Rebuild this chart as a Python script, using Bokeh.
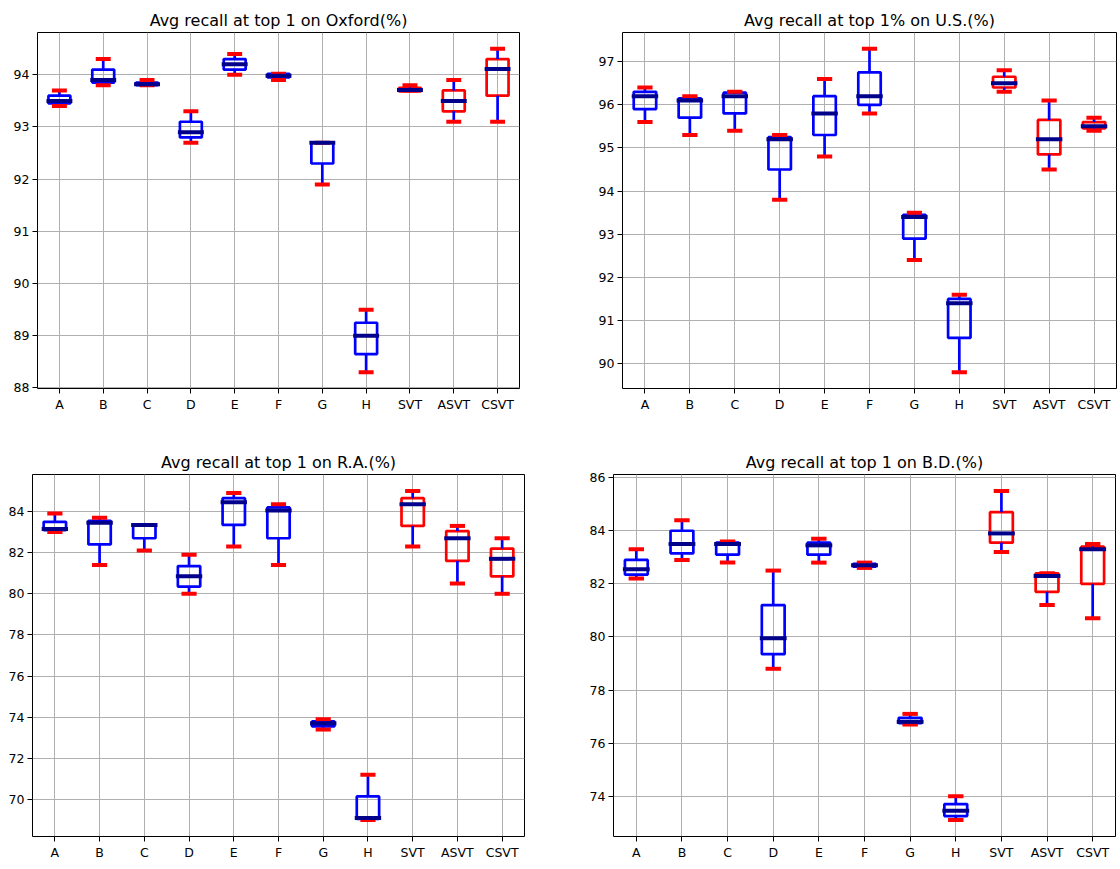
from bokeh.plotting import figure
from bokeh.layouts import column, row
from bokeh.models import FixedTicker, Range1d, ColumnDataSource
from bokeh.embed import file_html
from bokeh.resources import INLINE

categories = ["A", "B", "C", "D", "E", "F", "G", "H", "SVT", "ASVT", "CSVT"]
proposed = ["SVT", "ASVT", "CSVT"]

oxford_lo = [93.4, 93.8, 93.8, 92.7, 94.0, 93.9, 91.9, 88.3, 93.7, 93.1, 93.1]
oxford_q1 = [93.45, 93.85, 93.8, 92.8, 94.1, 93.95, 92.3, 88.65, 93.68, 93.3, 93.6]
oxford_med = [93.5, 93.9, 93.82, 92.9, 94.2, 93.98, 92.7, 89.0, 93.71, 93.5, 94.11]
oxford_q3 = [93.6, 94.1, 93.85, 93.1, 94.3, 94.02, 92.7, 89.25, 93.75, 93.7, 94.3]
oxford_hi = [93.7, 94.3, 93.9, 93.3, 94.4, 94.02, 92.7, 89.5, 93.8, 93.9, 94.5]
oxford_ticks = [88, 89, 90, 91, 92, 93, 94]

us_lo = [95.6, 95.3, 95.4, 93.8, 94.8, 95.8, 92.4, 89.8, 96.3, 94.5, 95.4]
us_q1 = [95.9, 95.7, 95.8, 94.5, 95.3, 96.0, 92.9, 90.6, 96.4, 94.85, 95.45]
us_med = [96.2, 96.1, 96.2, 95.2, 95.8, 96.2, 93.4, 91.4, 96.5, 95.2, 95.5]
us_q3 = [96.3, 96.15, 96.28, 95.25, 96.2, 96.75, 93.45, 91.5, 96.65, 95.65, 95.6]
us_hi = [96.4, 96.2, 96.3, 95.3, 96.6, 97.3, 93.5, 91.6, 96.8, 96.1, 95.7]
us_ticks = [90, 91, 92, 93, 94, 95, 96, 97]

ra_lo = [83.0, 81.4, 82.1, 80.0, 82.3, 81.4, 73.4, 69.0, 82.3, 80.5, 80.0]
ra_q1 = [83.1, 82.4, 82.7, 80.35, 83.35, 82.7, 73.55, 69.05, 83.3, 81.6, 80.85]
ra_med = [83.15, 83.45, 83.35, 80.85, 84.45, 84.05, 73.7, 69.1, 84.35, 82.7, 81.7]
ra_q3 = [83.5, 83.55, 83.35, 81.35, 84.65, 84.2, 73.8, 70.15, 84.65, 83.05, 82.2]
ra_hi = [83.9, 83.7, 83.35, 81.9, 84.9, 84.35, 73.9, 71.2, 85.0, 83.3, 82.7]
ra_ticks = [70, 72, 74, 76, 78, 80, 82, 84]

bd_lo = [82.2, 82.9, 82.8, 78.8, 82.8, 82.6, 76.7, 73.1, 83.2, 81.2, 80.7]
bd_q1 = [82.35, 83.15, 83.1, 79.35, 83.1, 82.65, 76.75, 73.25, 83.55, 81.7, 82.0]
bd_med = [82.55, 83.5, 83.5, 79.95, 83.45, 82.7, 76.8, 73.45, 83.9, 82.3, 83.3]
bd_q3 = [82.9, 84.0, 83.55, 81.2, 83.55, 82.75, 76.95, 73.7, 84.7, 82.4, 83.4]
bd_hi = [83.3, 84.4, 83.6, 82.5, 83.7, 82.8, 77.1, 74.0, 85.5, 82.4, 83.5]
bd_ticks = [74, 76, 78, 80, 82, 84, 86]

BLUE = "#0000FF"
RED = "#FF0000"
NAVY = "#00008B"
FONT = "DejaVu Sans"


def panel(title, lo, q1, med, q3, hi, yticks, width, height, bl, br, bt, bb):
    xs = list(range(1, len(categories) + 1))
    colors = [RED if c in proposed else BLUE for c in categories]
    ymin, ymax = min(lo), max(hi)
    pad = 0.05 * (ymax - ymin)
    p = figure(width=width, height=height, output_backend="svg",
               toolbar_location=None, tools="",
               x_range=Range1d(0.5, len(categories) + 0.5),
               y_range=Range1d(ymin - pad, ymax + pad),
               min_border_left=bl, min_border_right=br,
               min_border_top=bt, min_border_bottom=bb)
    p.title.text = title
    p.title.align = "center"
    p.title.text_font = FONT
    p.title.text_font_size = "16px"
    p.title.text_font_style = "normal"
    p.title.text_color = "#000000"
    p.title.standoff = 6
    p.outline_line_color = "#000000"
    p.outline_line_width = 1
    p.background_fill_color = "white"
    p.border_fill_color = "white"

    for ax in (p.xaxis[0], p.yaxis[0]):
        ax.axis_line_color = None
        ax.major_tick_in = 0
        ax.major_tick_out = 5
        ax.major_tick_line_color = "#000000"
        ax.minor_tick_line_color = None
        ax.major_label_text_font = FONT
        ax.major_label_text_font_size = "12.5px"
        ax.major_label_text_color = "#000000"
        ax.major_label_standoff = 3
    p.xaxis[0].ticker = FixedTicker(ticks=xs)
    p.xaxis[0].major_label_overrides = {x: c for x, c in zip(xs, categories)}
    p.yaxis[0].ticker = FixedTicker(ticks=yticks)
    p.xaxis[0].major_tick_out = 5
    p.xaxis[0].major_label_standoff = 3

    p.xgrid.ticker = FixedTicker(ticks=xs)
    p.ygrid.ticker = FixedTicker(ticks=yticks)
    for g in (p.xgrid[0], p.ygrid[0]):
        g.grid_line_color = "#b0b0b0"
        g.grid_line_width = 1

    bw = 0.25
    cw = 0.125
    src = ColumnDataSource(dict(
        x=xs, lo=lo, q1=q1, med=med, q3=q3, hi=hi, color=colors,
        bl=[x - bw for x in xs], br=[x + bw for x in xs],
        cl=[x - cw for x in xs], cr=[x + cw for x in xs]))
    p.quad(left="bl", right="br", bottom="q1", top="q3", source=src,
           fill_color=None, line_color="color", line_width=2.7)
    p.segment(x0="x", y0="lo", x1="x", y1="q1", source=src,
              line_color=BLUE, line_width=2.7)
    p.segment(x0="x", y0="q3", x1="x", y1="hi", source=src,
              line_color=BLUE, line_width=2.7)
    p.segment(x0="cl", y0="lo", x1="cr", y1="lo", source=src,
              line_color=RED, line_width=4, line_cap="square")
    p.segment(x0="cl", y0="hi", x1="cr", y1="hi", source=src,
              line_color=RED, line_width=4, line_cap="square")
    p.segment(x0="bl", y0="med", x1="br", y1="med", source=src,
              line_color=NAVY, line_width=4, line_cap="square")
    return p


p1 = panel("Avg recall at top 1 on Oxford(%)", oxford_lo, oxford_q1, oxford_med,
           oxford_q3, oxford_hi, oxford_ticks, 560, 436, 37, 41, 32, 48)
p2 = panel("Avg recall at top 1% on U.S.(%)", us_lo, us_q1, us_med,
           us_q3, us_hi, us_ticks, 560, 436, 62, 4, 32, 37)
p3 = panel("Avg recall at top 1 on R.A.(%)", ra_lo, ra_q1, ra_med,
           ra_q3, ra_hi, ra_ticks, 560, 433, 32, 36, 36, 33)
p4 = panel("Avg recall at top 1 on B.D.(%)", bd_lo, bd_q1, bd_med,
           bd_q3, bd_hi, bd_ticks, 560, 433, 53, 5, 38, 26)

layout = column(row(p1, p2), row(p3, p4))
open("out.html", "w").write(file_html(layout, INLINE))
